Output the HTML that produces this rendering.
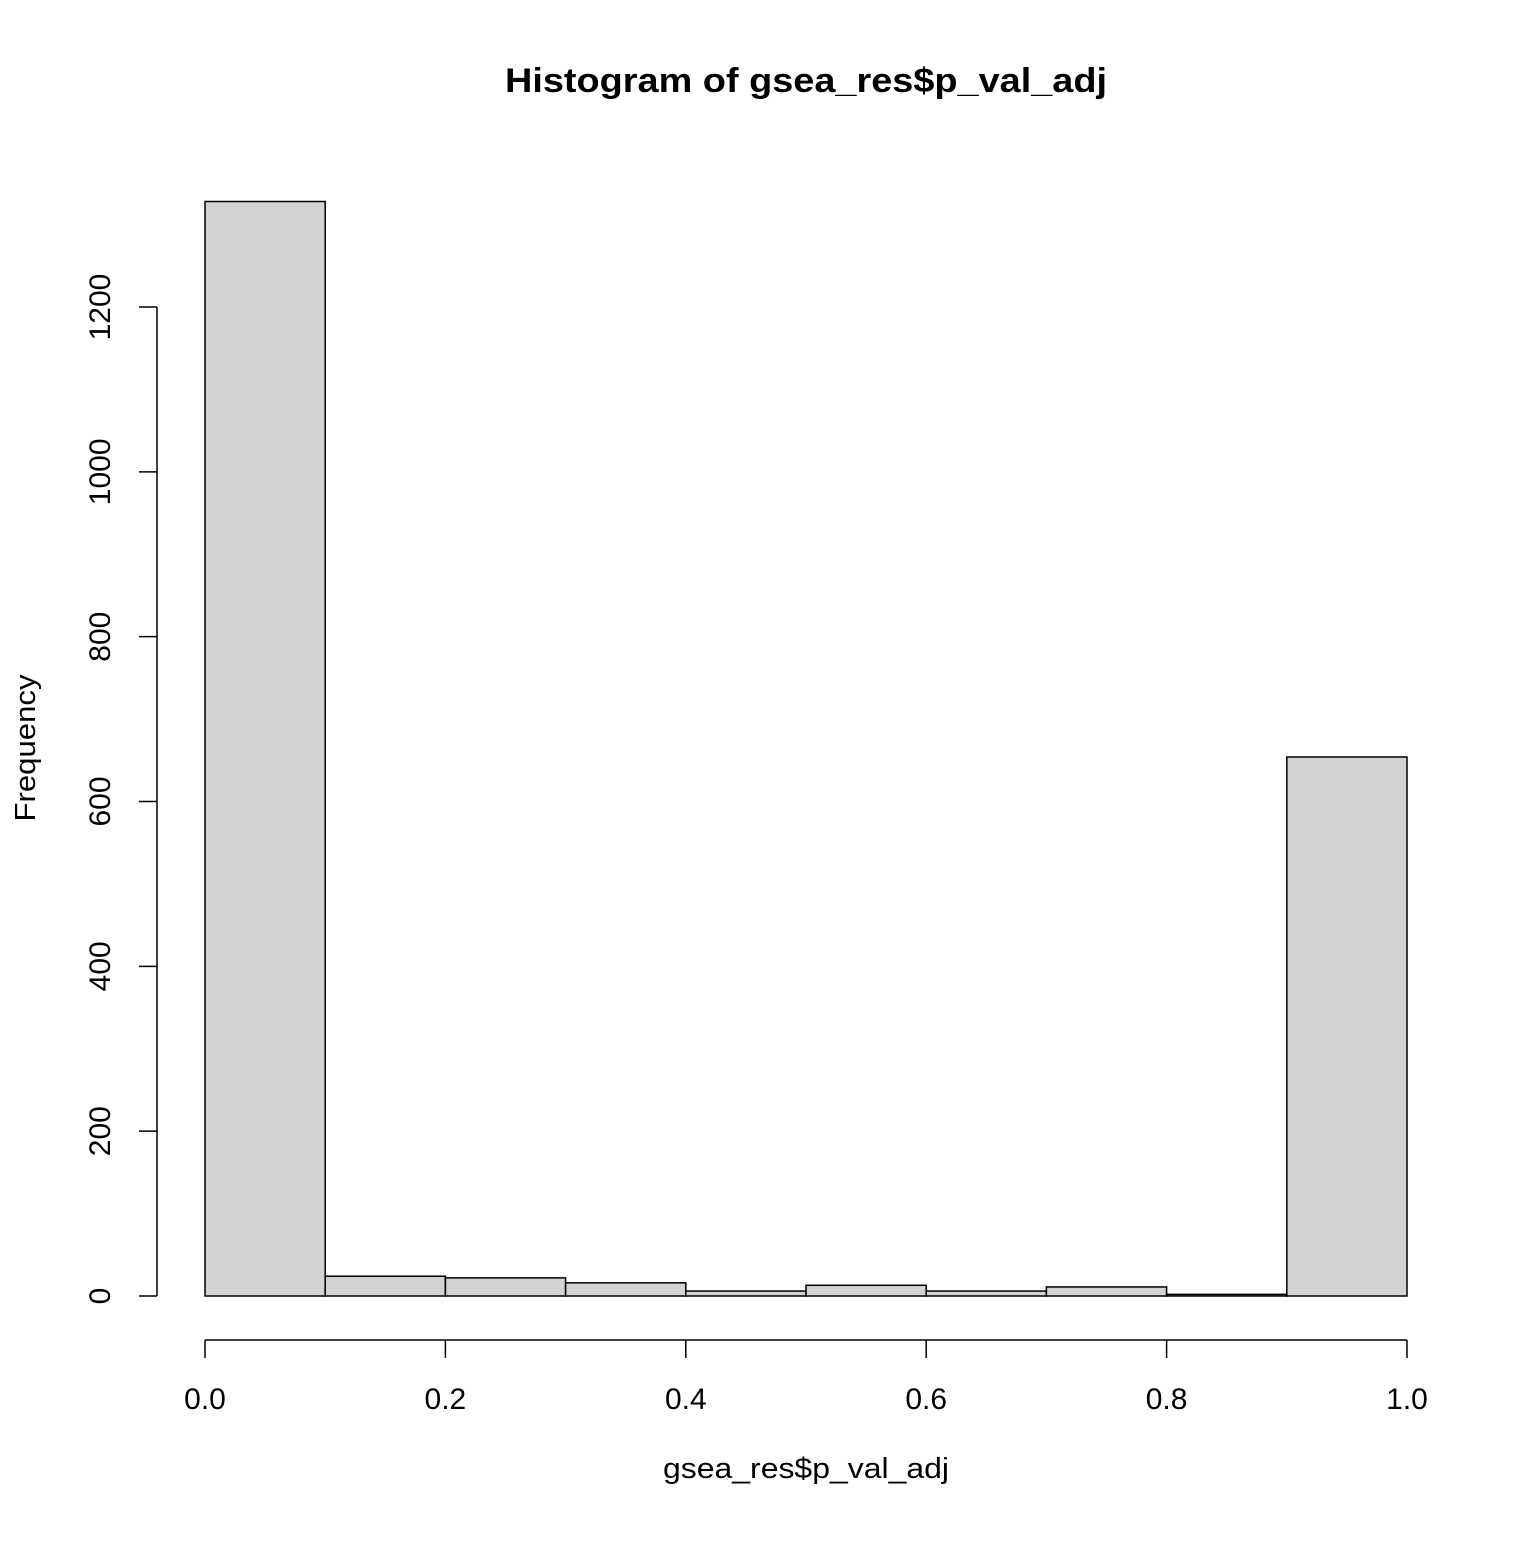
<!DOCTYPE html>
<html><head><meta charset="utf-8"><style>body{margin:0;background:#fff}svg text{font-family:"Liberation Sans",Arial,sans-serif}</style></head>
<body>
<svg id="chart" width="1536" height="1536" xmlns="http://www.w3.org/2000/svg">
<rect width="1536" height="1536" fill="#fff"/>
<text x="806" y="92" font-size="34" font-weight="bold" text-anchor="middle" textLength="602" lengthAdjust="spacingAndGlyphs">Histogram of gsea_res$p_val_adj</text>
<text x="806" y="1478" font-size="29" text-anchor="middle" textLength="286" lengthAdjust="spacingAndGlyphs">gsea_res$p_val_adj</text>
<text transform="translate(35,748) rotate(-90)" font-size="29" text-anchor="middle" textLength="147" lengthAdjust="spacingAndGlyphs">Frequency</text>
<g id="bars"></g><g id="axes"></g>
</svg>
<script>
const binEdges=[0,0.1,0.2,0.3,0.4,0.5,0.6,0.7,0.8,0.9,1.0];
const counts=[1328,24,22,16,6,13,6,11,2,654];
const xTicks=[0,0.2,0.4,0.6,0.8,1.0];
const xTickLabels=["0.0","0.2","0.4","0.6","0.8","1.0"];
const yTicks=[0,200,400,600,800,1000,1200];
const ns="http://www.w3.org/2000/svg";
const x=v=>205+v*1202;
const y=v=>1296-v*(989/1200);
function mk(t,a,p){const e=document.createElementNS(ns,t);for(const k in a)e.setAttribute(k,a[k]);p.appendChild(e);return e;}
const bars=document.getElementById('bars'),axes=document.getElementById('axes');
counts.forEach((c,i)=>{const r=mk('rect',{x:x(binEdges[i]),y:y(c),width:x(binEdges[i+1])-x(binEdges[i]),height:y(0)-y(c),fill:'#d3d3d3',stroke:'#000','stroke-width':1.5},bars);

});
const xl=mk('line',{x1:x(0),x2:x(1),y1:1340,y2:1340,stroke:'#000','stroke-width':1.5},axes);


xTicks.forEach((v,i)=>{mk('line',{x1:x(v),x2:x(v),y1:1340,y2:1358,stroke:'#000','stroke-width':1.5},axes);
const t=mk('text',{x:x(v),y:1409,'font-size':30,'text-anchor':'middle'},axes);t.textContent=xTickLabels[i];

});
const yl=mk('line',{x1:157,x2:157,y1:y(1200),y2:y(0),stroke:'#000','stroke-width':1.5},axes);


yTicks.forEach(v=>{mk('line',{x1:139,x2:157,y1:y(v),y2:y(v),stroke:'#000','stroke-width':1.5},axes);
const t=mk('text',{transform:`translate(110,${y(v)}) rotate(-90)`,'font-size':30,'text-anchor':'middle'},axes);t.textContent=String(v);

});
</script>
</body></html>
